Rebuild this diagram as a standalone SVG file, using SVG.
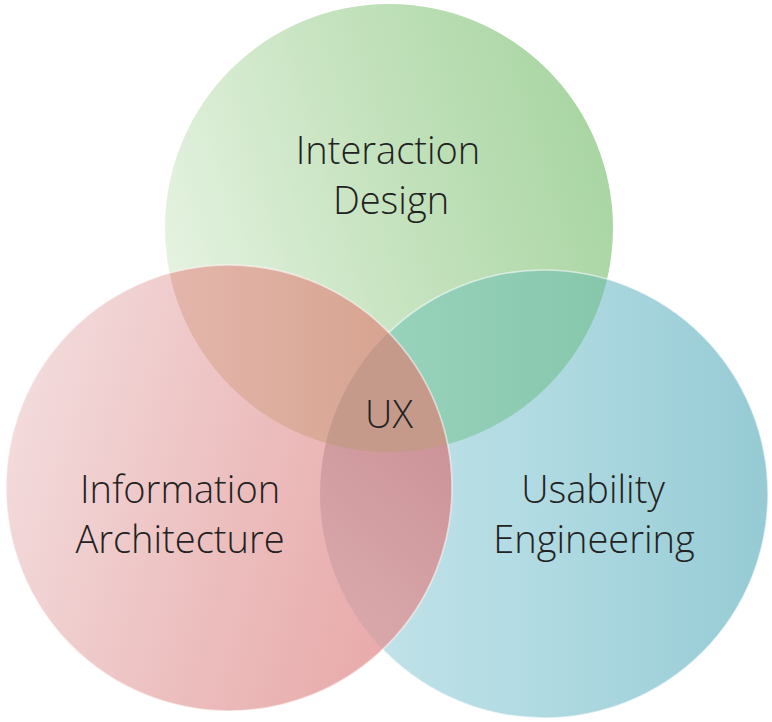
<svg xmlns="http://www.w3.org/2000/svg" width="772" height="722" viewBox="0 0 772 722">
  <style>
    .lbl { font-family: "Open Sans", "Noto Sans", "Liberation Sans", sans-serif; font-size: 38px; font-weight: 300; fill: #222222; text-anchor: middle; }
    .rim { fill: none; stroke: #ffffff; stroke-opacity: 0.55; stroke-width: 1.6; }
  </style>
  <defs>
    <linearGradient id="gGreen" gradientUnits="userSpaceOnUse" x1="165" y1="300" x2="613" y2="160">
      <stop offset="0" stop-color="#e6f3e2"/>
      <stop offset="0.5" stop-color="#c6e3bf"/>
      <stop offset="1" stop-color="#a8d5a2"/>
    </linearGradient>
    <linearGradient id="gRed" gradientUnits="userSpaceOnUse" x1="5" y1="430" x2="452" y2="560">
      <stop offset="0" stop-color="#f3dbdc"/>
      <stop offset="0.55" stop-color="#ecbcbc"/>
      <stop offset="1" stop-color="#e8a6a6"/>
    </linearGradient>
    <linearGradient id="gBlue" gradientUnits="userSpaceOnUse" x1="320" y1="494" x2="767" y2="494">
      <stop offset="0" stop-color="#c6e4ea"/>
      <stop offset="0.5" stop-color="#b0dae2"/>
      <stop offset="1" stop-color="#96cbd4"/>
    </linearGradient>
    <linearGradient id="gRG" gradientUnits="userSpaceOnUse" x1="165" y1="350" x2="440" y2="350">
      <stop offset="0" stop-color="#e4b6ac"/>
      <stop offset="1" stop-color="#d3a089"/>
    </linearGradient>
    <linearGradient id="gGB" gradientUnits="userSpaceOnUse" x1="390" y1="350" x2="613" y2="350">
      <stop offset="0" stop-color="#98d2bc"/>
      <stop offset="1" stop-color="#86c7ab"/>
    </linearGradient>
    <linearGradient id="gRB" gradientUnits="userSpaceOnUse" x1="320" y1="600" x2="452" y2="450">
      <stop offset="0" stop-color="#d9a8ab"/>
      <stop offset="1" stop-color="#cc9498"/>
    </linearGradient>
    <clipPath id="cGreen"><circle cx="389" cy="228" r="224"/></clipPath>
    <clipPath id="cBlue"><circle cx="544" cy="494" r="224"/></clipPath>
    <mask id="mOutRed">
      <rect width="772" height="722" fill="#fff"/>
      <circle cx="229" cy="488" r="223" fill="#000"/>
    </mask>
  </defs>
  <rect width="772" height="722" fill="#ffffff"/>

  <g id="interaction-design">
    <circle cx="389" cy="228" r="224" fill="url(#gGreen)"/>
    <text class="lbl" x="388" y="164">Interaction</text>
    <text class="lbl" x="391" y="214">Design</text>
  </g>

  <g id="usability-engineering">
    <circle cx="544" cy="494" r="224" fill="url(#gBlue)"/>
    <text class="lbl" x="593" y="503">Usability</text>
    <text class="lbl" x="594" y="553">Engineering</text>
  </g>

  <g id="information-architecture">
    <circle cx="229" cy="488" r="223" fill="url(#gRed)"/>
    <text class="lbl" x="180" y="503">Information</text>
    <text class="lbl" x="180" y="553">Architecture</text>
  </g>

  <g id="overlaps">
    <circle cx="229" cy="488" r="223" fill="url(#gRG)" clip-path="url(#cGreen)"/>
    <circle cx="544" cy="494" r="224" fill="url(#gGB)" clip-path="url(#cGreen)"/>
    <circle cx="229" cy="488" r="223" fill="url(#gRB)" clip-path="url(#cBlue)"/>
    <g clip-path="url(#cGreen)">
      <circle cx="229" cy="488" r="223" fill="#c59a8b" clip-path="url(#cBlue)"/>
    </g>
    <circle class="rim" cx="544" cy="494" r="224" mask="url(#mOutRed)"/>
    <circle class="rim" cx="229" cy="488" r="223"/>
  </g>

  <g id="ux">
    <text class="lbl" x="389" y="428">UX</text>
  </g>
</svg>
